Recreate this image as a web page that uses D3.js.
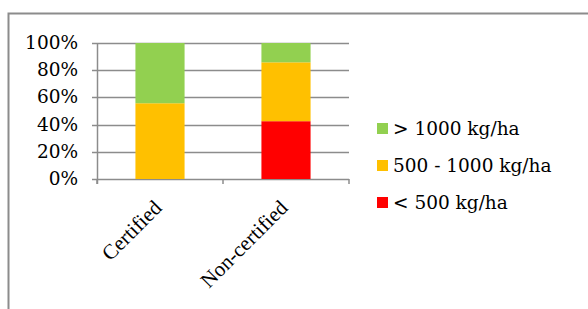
<!DOCTYPE html>
<html>
<head>
<meta charset="utf-8">
<script src="https://cdn.jsdelivr.net/npm/d3@7"></script>
<style>
  body { margin: 0; background: #fff; }
  svg { display: block; }
</style>
</head>
<body>
<div id="chart"></div>
<script>
const categories = ["Certified", "Non-certified"];
const seriesNames = ["< 500 kg/ha", "500 - 1000 kg/ha", "> 1000 kg/ha"];
const seriesColors = ["#ff0000", "#ffc000", "#92d050"];
// shares per category, bottom to top
const low = [0, 0.425];
const mid = [0.557, 0.433];
const high = [0.443, 0.142];
const yTicks = [0, 0.2, 0.4, 0.6, 0.8, 1];

const width = 588, height = 309;
const margin = {left: 97, right: 239, top: 43, bottom: 130};

const svg = d3.select("#chart").append("svg")
    .attr("width", width).attr("height", height);

// outer frame (partly cut off at right and bottom)
svg.append("rect")
    .attr("x", 8.5).attr("y", 13.5)
    .attr("width", 600).attr("height", 320)
    .attr("fill", "none")
    .attr("stroke", "#8c8c8c")
    .attr("stroke-width", 2);

const x = d3.scaleBand()
    .domain(categories)
    .range([margin.left, width - margin.right])
    .paddingInner(0.61)
    .paddingOuter(0.305);

const y = d3.scaleLinear()
    .domain([0, 1])
    .range([height - margin.bottom, margin.top]);

// gridlines
svg.append("g")
    .selectAll("line")
    .data(yTicks)
    .join("line")
    .attr("x1", margin.left - 5)
    .attr("x2", width - margin.right)
    .attr("y1", d => Math.round(y(d)) + 0.5)
    .attr("y2", d => Math.round(y(d)) + 0.5)
    .attr("stroke", "#8c8c8c")
    .attr("stroke-width", 1.5);

// y axis line
svg.append("line")
    .attr("x1", margin.left + 0.5).attr("x2", margin.left + 0.5)
    .attr("y1", y(1)).attr("y2", y(0) + 5)
    .attr("stroke", "#8c8c8c").attr("stroke-width", 1.5);

// x ticks at category boundaries
const bounds = [margin.left, (margin.left + width - margin.right) / 2, width - margin.right];
svg.append("g")
    .selectAll("line")
    .data(bounds)
    .join("line")
    .attr("x1", d => d).attr("x2", d => d)
    .attr("y1", y(0)).attr("y2", y(0) + 5)
    .attr("stroke", "#8c8c8c").attr("stroke-width", 1.5);

// y labels
svg.append("g")
    .selectAll("text")
    .data(yTicks)
    .join("text")
    .attr("x", 78)
    .attr("y", d => y(d) + 6)
    .attr("text-anchor", "end")
    .attr("font-family", "'DejaVu Serif', serif")
    .attr("font-size", 18.5)
    .attr("fill", "#000")
    .text(d => Math.round(d * 100) + "%");

// stacked bars
const rows = categories.map((c, i) => ({cat: c, low: low[i], mid: mid[i], high: high[i]}));
const stack = d3.stack().keys(["low", "mid", "high"])(rows);

svg.append("g")
    .selectAll("g")
    .data(stack)
    .join("g")
    .attr("fill", (d, i) => seriesColors[i])
    .selectAll("rect")
    .data(d => d)
    .join("rect")
    .attr("x", d => x(d.data.cat))
    .attr("width", x.bandwidth())
    .attr("y", d => y(d[1]))
    .attr("height", d => y(d[0]) - y(d[1]));

// category labels, rotated
svg.append("g")
    .selectAll("text")
    .data(categories)
    .join("text")
    .attr("transform", d => `translate(${x(d) + x.bandwidth() / 2 + 3},${y(0) + 30}) rotate(-45)`)
    .attr("text-anchor", "end")
    .attr("font-family", "'Liberation Serif', serif")
    .attr("font-size", 21)
    .attr("fill", "#000")
    .text(d => d);

// legend, top to bottom
const legendItems = [2, 1, 0];
const legend = svg.append("g")
    .selectAll("g")
    .data(legendItems)
    .join("g")
    .attr("transform", (d, i) => `translate(377,${123 + i * 37})`);

legend.append("rect")
    .attr("width", 11).attr("height", 11)
    .attr("fill", d => seriesColors[d]);

legend.append("text")
    .attr("x", 16).attr("y", 12)
    .attr("font-family", "'DejaVu Serif', serif")
    .attr("font-size", 18.5)
    .attr("fill", "#000")
    .text(d => seriesNames[d]);
</script>
</body>
</html>
